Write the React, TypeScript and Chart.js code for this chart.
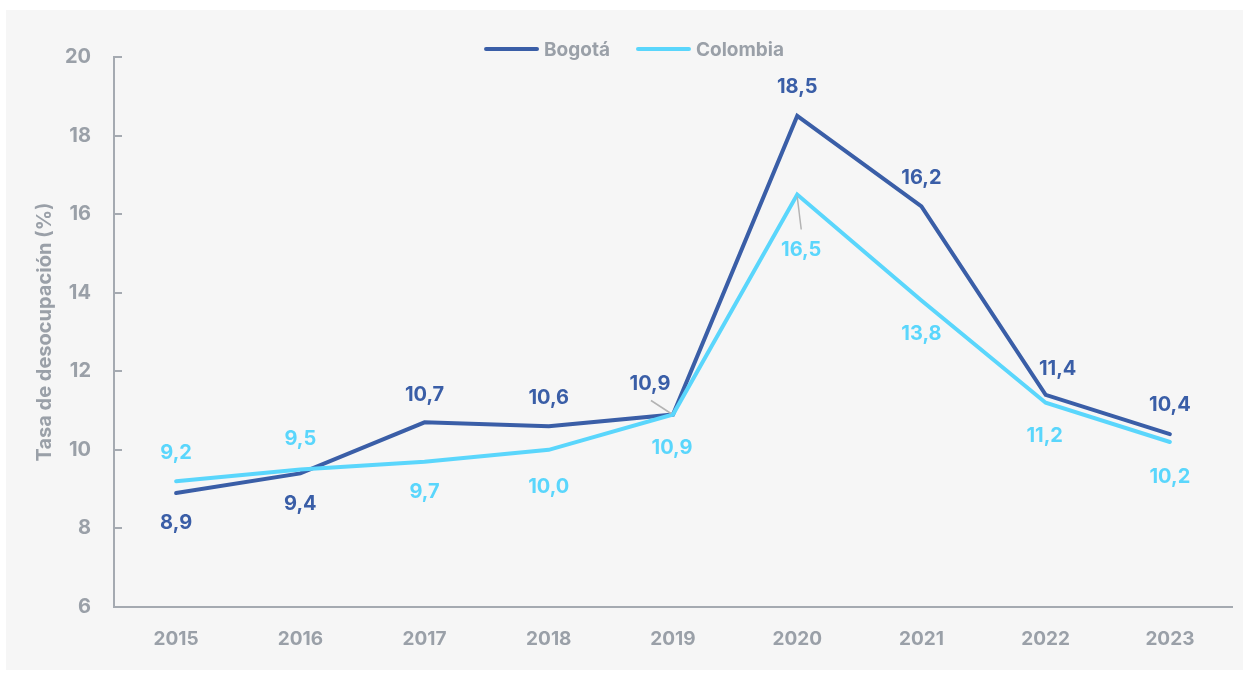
import React, { useEffect, useRef } from 'react';
import { Chart, registerables } from 'chart.js';

Chart.register(...registerables);

const years = ['2015', '2016', '2017', '2018', '2019', '2020', '2021', '2022', '2023'];
const bogota = [8.9, 9.4, 10.7, 10.6, 10.9, 18.5, 16.2, 11.4, 10.4];
const colombia = [9.2, 9.5, 9.7, 10.0, 10.9, 16.5, 13.8, 11.2, 10.2];
const seriesNames = ['Bogotá', 'Colombia'];
const yMin = 6;
const yMax = 20;
const yStep = 2;
const yTitle = 'Tasa de desocupación (%)';

// label placement (offset of label centre from point, px)
const bogotaLabelOffsets = [[0, 30], [0, 31], [0, -27], [0, -28], [-23, -31], [0, -29], [0, -28], [12, -26], [0, -29]];
const colombiaLabelOffsets = [[0, -28], [0, -31], [0, 30], [0, 37], [-1, 33], [4, 55], [0, 33], [-1, 33], [0, 35]];
// leader lines: [datasetIndex, index, x1, y1, x2, y2] relative to point
const leaders = [
  [0, 4, -22, -14, -2, -1],
  [1, 5, 0, 2, 4, 35],
];

const BLUE = '#3a5ea7';
const CYAN = '#5ad6fc';
const GRAY = '#9aa0a8';
const AXIS = '#a5aab1';
const FONT = 'Inter';

const fmt = (v: number) => v.toFixed(1).replace('.', ',');

const customPlugin = {
  id: 'customDecor',
  afterDatasetsDraw(chart: any) {
    const ctx = chart.ctx;
    const ys = chart.scales.y;
    const xs = chart.scales.x;
    ctx.save();
    // inward tick marks on y axis
    ctx.strokeStyle = AXIS;
    ctx.lineWidth = 2;
    ys.ticks.forEach((t: any) => {
      const py = Math.round(ys.getPixelForValue(t.value));
      ctx.beginPath();
      ctx.moveTo(xs.left, py);
      ctx.lineTo(xs.left + 8, py);
      ctx.stroke();
    });
    // leader lines
    ctx.strokeStyle = '#b3b3b3';
    ctx.lineWidth = 1.5;
    leaders.forEach(([di, i, x1, y1, x2, y2]) => {
      const el = chart.getDatasetMeta(di).data[i];
      ctx.beginPath();
      ctx.moveTo(el.x + x1, el.y + y1);
      ctx.lineTo(el.x + x2, el.y + y2);
      ctx.stroke();
    });
    // data labels
    const offsets = [bogotaLabelOffsets, colombiaLabelOffsets];
    ctx.font = `bold 20px ${FONT}`;
    ctx.textAlign = 'center';
    ctx.textBaseline = 'middle';
    chart.data.datasets.forEach((ds: any, di: number) => {
      const meta = chart.getDatasetMeta(di);
      ctx.fillStyle = ds.borderColor;
      meta.data.forEach((el: any, i: number) => {
        const [dx, dy] = offsets[di][i];
        ctx.fillText(fmt(ds.data[i]), el.x + dx, el.y + dy);
      });
    });
    // legend
    ctx.font = `bold 19px ${FONT}`;
    ctx.textAlign = 'left';
    const boxW = 55;
    const gap = 5;
    const spacing = 26;
    const items = chart.data.datasets.map((ds: any) => ({
      label: ds.label,
      color: ds.borderColor,
      w: ctx.measureText(ds.label).width,
    }));
    const total = items.reduce((s: number, it: any) => s + boxW + gap + it.w, 0) + spacing * (items.length - 1);
    let cx = 628 - total / 2;
    const ly = 39;
    items.forEach((it: any) => {
      ctx.strokeStyle = it.color;
      ctx.lineWidth = 4;
      ctx.lineCap = 'round';
      ctx.beginPath();
      ctx.moveTo(cx + 2, ly);
      ctx.lineTo(cx + boxW - 2, ly);
      ctx.stroke();
      ctx.fillStyle = GRAY;
      ctx.fillText(it.label, cx + boxW + gap, ly + 1);
      cx += boxW + gap + it.w + spacing;
    });
    ctx.restore();
  },
};

export default function App() {
  const ref = useRef<HTMLCanvasElement>(null);
  useEffect(() => {
    document.body.style.margin = '0';
    const chart = new Chart(ref.current as HTMLCanvasElement, {
      type: 'line',
      data: {
        labels: years,
        datasets: [
          {
            label: seriesNames[0],
            data: bogota,
            borderColor: BLUE,
            backgroundColor: BLUE,
            borderWidth: 4,
            pointRadius: 0,
            tension: 0,
            borderCapStyle: 'round',
            borderJoinStyle: 'miter',
            order: 1,
          },
          {
            label: seriesNames[1],
            data: colombia,
            borderColor: CYAN,
            backgroundColor: CYAN,
            borderWidth: 4,
            pointRadius: 0,
            tension: 0,
            borderCapStyle: 'round',
            borderJoinStyle: 'miter',
            order: 0,
          },
        ],
      },
      options: {
        animation: false,
        responsive: false,
        devicePixelRatio: 1,
        layout: { padding: { top: 47, right: 11, left: 0, bottom: 0 } },
        plugins: {
          legend: { display: false },
          tooltip: { enabled: false },
        },
        scales: {
          x: {
            offset: true,
            grid: { display: true, drawOnChartArea: false, drawTicks: false },
            border: { display: true, color: AXIS, width: 2 },
            ticks: {
              color: GRAY,
              padding: 21,
              font: { family: FONT, size: 19, weight: 'bold' },
            },
            afterFit: (s: any) => { s.height = 63; },
          },
          y: {
            min: yMin,
            max: yMax,
            grid: { display: true, drawOnChartArea: false, drawTicks: false },
            border: { display: true, color: AXIS, width: 2 },
            ticks: {
              stepSize: yStep,
              color: GRAY,
              padding: 23,
              font: { family: FONT, size: 20, weight: 'bold' },
            },
            title: {
              display: true,
              text: yTitle,
              color: GRAY,
              padding: { top: 27, bottom: 0 },
              font: { family: FONT, size: 20, weight: 'bold' },
            },
            afterFit: (s: any) => { s.width = 108; },
          },
        },
      },
      plugins: [customPlugin],
    } as any);
    return () => chart.destroy();
  }, []);

  return (
    <div style={{ width: 1249, height: 677, background: '#ffffff', position: 'relative' }}>
      <div style={{ position: 'absolute', left: 6, top: 10, width: 1237, height: 660, background: '#f6f6f6' }}>
        <canvas ref={ref} width={1237} height={660} style={{ display: 'block' }} />
      </div>
    </div>
  );
}
